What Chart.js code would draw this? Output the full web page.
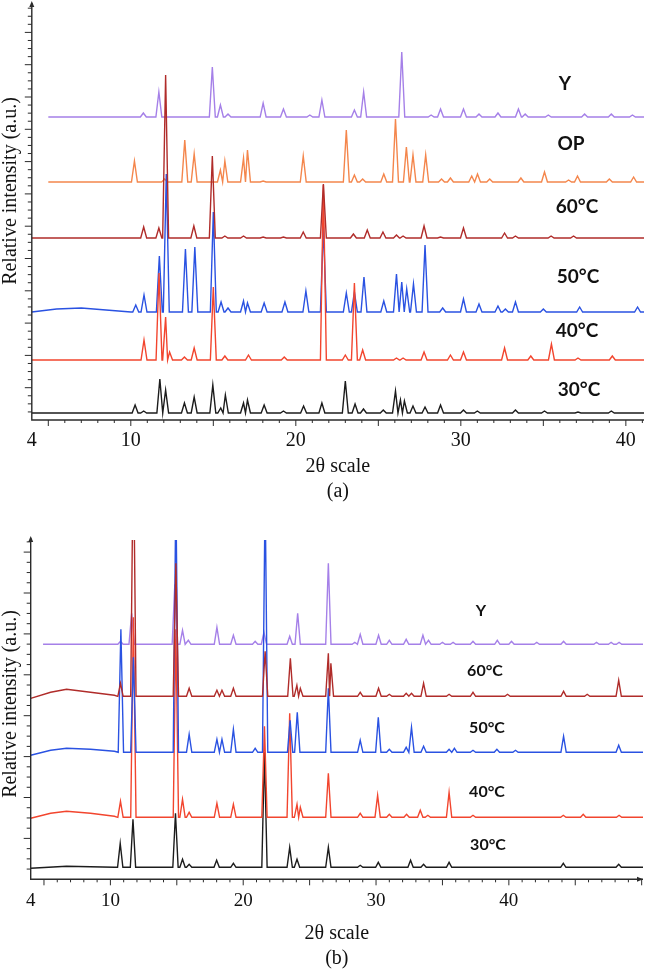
<!DOCTYPE html>
<html lang="en">
<head>
<meta charset="UTF-8">
<title>XRD patterns</title>
<script src="https://cdn.jsdelivr.net/npm/chart.js"></script>
<style>
  body { margin: 0; background: #fff; }
  canvas { position: absolute; left: 0; }
</style>
</head>
<body>
<canvas id="panelA" width="653" height="504" style="top:0"></canvas>
<canvas id="panelB" width="653" height="467" style="top:504px"></canvas>
<script>
// ---------- panel (a): 2θ 4..41 ----------
const a_names = ['Y', 'OP', '60°C', '50°C', '40°C', '30°C'];

const a_Y_base = 303;
const a_Y_pos = [10.76, 11.70, 14.94, 15.43, 15.89, 18.02, 19.25, 20.85, 21.58, 23.55, 24.11, 26.42, 28.2, 28.77, 30.16, 31.10, 32.25, 33.49, 33.9, 35.3, 37.50, 39.12, 40.4];
const a_Y_h   = [4, 25, 50, 12, 3, 14, 8, 2, 17, 7, 25, 65, 2, 8, 8, 3, 4, 8, 3, 2, 3, 3, 2];

const a_OP_base = 238;
const a_OP_pos = [10.22, 12.05, 13.27, 13.84, 15.43, 15.70, 16.83, 17.07, 18.02, 20.45, 23.06, 23.55, 24.05, 25.33, 26.04, 26.70, 27.10, 27.87, 28.83, 29.37, 30.66, 31.01, 31.75, 33.64, 35.07, 36.53, 37.07, 39.0, 40.47];
const a_OP_h   = [21, 3, 42, 28, 12, 21, 24, 32, 1, 26, 52, 7, 3, 8, 63, 35, 27, 27, 3, 4, 6, 8, 3, 4, 10, 2, 6, 3, 5];

const a_60_base = 182;
const a_60_pos = [10.78, 11.70, 12.11, 13.82, 14.94, 15.70, 16.83, 18.02, 19.25, 20.45, 21.67, 23.49, 24.33, 25.28, 26.10, 26.50, 27.77, 28.77, 30.16, 32.65, 33.31, 35.47, 36.83];
const a_60_h   = [11, 10, 163, 12, 82, 2, 2, 1, 1, 6, 54, 4, 8, 6, 3, 2, 12, 1, 10, 5, 2, 2, 2];

const a_50_base = 108;
const a_50_humpX = [4, 5.5, 7, 8.5, 10];
const a_50_humpY = [108, 111, 112, 110, 108];
const a_50_pos = [10.30, 10.80, 11.73, 12.15, 13.31, 13.88, 15.00, 15.47, 15.89, 16.83, 17.07, 18.08, 19.34, 20.61, 21.67, 23.06, 23.55, 24.13, 25.33, 26.10, 26.42, 26.72, 27.13, 27.83, 28.90, 30.16, 31.10, 32.25, 32.70, 33.31, 35.0, 37.2, 40.71];
const a_50_h   = [7, 17, 56, 138, 63, 65, 100, 10, 4, 11, 9, 9, 10, 21, 85, 19, 20, 35, 11, 38, 30, 23, 28, 67, 4, 13, 8, 6, 3, 10, 3, 5, 5];

const a_40_base = 60;
const a_40_pos = [10.80, 11.71, 12.11, 12.35, 13.25, 13.84, 15.00, 15.70, 17.13, 19.30, 21.67, 23.00, 23.55, 24.05, 26.10, 26.50, 27.77, 29.37, 30.16, 32.65, 34.24, 35.49, 37.10, 39.18];
const a_40_h   = [20, 87, 43, 8, 3, 12, 73, 4, 5, 3, 175, 5, 77, 10, 2, 2, 8, 5, 8, 12, 4, 16, 2, 4];

const a_30_base = 7;
const a_30_pos = [10.26, 10.78, 11.76, 12.11, 13.25, 13.84, 14.97, 15.45, 15.73, 16.83, 17.07, 18.08, 19.25, 20.47, 21.58, 23.00, 23.59, 24.10, 25.30, 26.04, 26.34, 26.58, 27.10, 27.83, 28.77, 30.16, 31.00, 33.31, 35.07, 37.10, 39.12];
const a_30_h   = [8, 2, 34, 23, 10, 16, 28, 5, 18, 10, 13, 8, 2, 7, 10, 32, 9, 4, 3, 22, 13, 12, 7, 6, 8, 3, 2, 3, 2, 1, 2];

// ---------- panel (b): 2θ 4..50 ----------
const b_names = ['Y', '60°C', '50°C', '40°C', '30°C'];

const b_Y_base = 235;
const b_Y_pos = [10.76, 11.60, 14.85, 15.43, 15.87, 18.02, 19.26, 20.90, 21.56, 23.50, 24.10, 26.41, 28.40, 28.81, 30.19, 31.00, 32.27, 33.53, 33.95, 35.00, 35.80, 37.30, 39.13, 40.20, 42.10, 44.12, 46.60, 47.70, 48.30];
const b_Y_h   = [3, 31, 60, 14, 4, 17, 9, 3, 12, 8, 31, 81, 2, 10, 9, 4, 5, 9, 4, 2, 2, 3, 4, 3, 2, 3, 2, 2, 2];

const b_60_base = 183;
const b_60_humpX = [4, 5.5, 6.7, 8.5, 10.3];
const b_60_humpY = [181, 187, 190, 187, 184];
const b_60_pos = [10.76, 11.73, 14.93, 15.93, 18.02, 18.40, 19.26, 21.65, 23.55, 24.04, 24.30, 26.41, 26.60, 28.81, 30.19, 31.00, 32.27, 32.67, 33.58, 35.50, 37.30, 39.90, 44.12, 45.90, 48.27];
const b_60_h   = [13, 260, 133, 8, 6, 6, 8, 45, 38, 11, 8, 43, 33, 4, 8, 2, 3, 3, 13, 2, 4, 2, 5, 2, 16];

const b_50_base = 127;
const b_50_humpX = [4, 5.5, 6.7, 8.5, 10.3];
const b_50_humpY = [124, 129, 131, 130, 128];
const b_50_pos = [10.79, 11.73, 14.93, 15.93, 18.02, 18.40, 19.26, 20.90, 21.65, 23.53, 24.07, 26.41, 28.81, 30.17, 31.00, 32.27, 32.67, 33.58, 35.50, 35.90, 37.30, 39.10, 40.50, 44.12, 48.27];
const b_50_h   = [123, 95, 260, 18, 13, 13, 23, 4, 260, 32, 40, 64, 12, 35, 3, 5, 25, 6, 3, 4, 2, 3, 2, 16, 7];

const b_40_base = 62;
const b_40_humpX = [4, 5.5, 6.7, 8.5, 10.3];
const b_40_humpY = [61, 66, 68, 66, 63];
const b_40_pos = [10.76, 11.73, 14.93, 15.43, 15.93, 18.02, 19.26, 21.60, 23.50, 24.05, 24.30, 26.41, 28.81, 30.12, 31.00, 32.30, 33.33, 33.90, 35.50, 37.30, 44.10, 45.60, 48.30];
const b_40_h   = [16, 200, 188, 18, 5, 14, 13, 91, 104, 13, 10, 44, 4, 22, 3, 3, 7, 2, 25, 2, 2, 3, 2];

const b_30_base = 12;
const b_30_humpX = [4, 6.7, 10.3];
const b_30_humpY = [11, 13, 12];
const b_30_pos = [10.74, 11.70, 14.90, 15.43, 15.93, 18.00, 19.26, 21.60, 23.50, 24.05, 26.41, 28.81, 30.17, 32.60, 33.58, 35.50, 44.10, 48.27];
const b_30_h   = [24, 48, 54, 8, 3, 7, 4, 115, 20, 8, 20, 2, 5, 7, 3, 5, 4, 3];

// peaks as narrow triangles on a flat (or read) baseline
function profile(start, end, base, pos, h, humpX, humpY, w) {
    const pts = [];
    if (humpX) humpX.forEach((x, i) => pts.push({x: x, y: humpY[i]}));
    else pts.push({x: start, y: base});
    pos.forEach((p, i) => {
        const l = i > 0 ? Math.min(w, (p - pos[i - 1]) / 2) : w;
        const r = i < pos.length - 1 ? Math.min(w, (pos[i + 1] - p) / 2) : w;
        pts.push({x: p - l, y: base}, {x: p, y: base + h[i]}, {x: p + r, y: base});
    });
    pts.push({x: end, y: base});
    return pts;
}

const colors = {
    Y: '#a580e8', OP: '#f4864c', t60: '#b02c2a', t50: '#2a52e2', t40: '#f2452e', t30: '#1c1c1c'
};

function ds(label, data, color, order) {
    return { label: label, data: data, borderColor: color, borderWidth: 1.4,
             pointRadius: 0, fill: false, tension: 0, order: order };
}

// axes, ticks, y title and curve labels
const axisDecor = {
    id: 'axisDecor',
    afterDraw(chart, args, o) {
        const {ctx, chartArea: a, scales: {x, y}} = chart;
        ctx.save();
        ctx.strokeStyle = '#2b2b2b';
        ctx.fillStyle = '#2b2b2b';
        ctx.lineWidth = 1.4;
        ctx.beginPath();
        ctx.moveTo(a.left, a.top - 2);
        ctx.lineTo(a.left, a.bottom);
        ctx.lineTo(a.right, a.bottom);
        ctx.stroke();
        // small arrow heads
        ctx.beginPath();
        ctx.moveTo(a.left, a.top - 4);
        ctx.lineTo(a.left - 2.5, a.top + 2);
        ctx.lineTo(a.left + 2.5, a.top + 2);
        ctx.fill();
        if (o.arrowRight) {
            ctx.beginPath();
            ctx.moveTo(a.right, a.bottom);
            ctx.lineTo(a.right - 6, a.bottom - 2.5);
            ctx.lineTo(a.right - 6, a.bottom + 2.5);
            ctx.fill();
        }
        ctx.lineWidth = 1;
        ctx.beginPath();
        for (let v = Math.ceil(x.min) + 1; v < x.max; v++) {
            const px = x.getPixelForValue(v);
            ctx.moveTo(px, a.bottom);
            ctx.lineTo(px, a.bottom + (v % 5 === 0 ? 6 : 3));
        }
        for (let k = 1; k * o.yStep < y.max; k++) {
            const py = y.getPixelForValue(k * o.yStep);
            ctx.moveTo(a.left, py);
            ctx.lineTo(a.left - (k % 4 === 0 ? 7 : 4), py);
        }
        ctx.stroke();

        ctx.fillStyle = '#111';
        ctx.font = '20px "Liberation Serif", "Times New Roman", serif';
        ctx.textAlign = 'center';
        ctx.textBaseline = 'middle';
        ctx.save();
        ctx.translate(o.titleX, o.titleY);
        ctx.rotate(-Math.PI / 2);
        ctx.fillText('Relative intensity (a.u.)', 0, 0);
        ctx.restore();

        ctx.font = 'bold ' + o.labelSize + 'px Lato, "Open Sans", sans-serif';
        o.names.forEach((n, i) => ctx.fillText(n, o.labelX[i], o.labelY[i]));
        ctx.restore();
    }
};

function xScale(min, max, size, boxH, pad, caption) {
    return {
        type: 'linear', min: min, max: max,
        grid: { display: false, drawTicks: false },
        border: { display: false },
        ticks: {
            stepSize: 1, autoSkip: false, maxRotation: 0, padding: pad, color: '#111',
            font: { family: '"Liberation Serif", "Times New Roman", serif', size: size },
            callback: v => [4, 10, 20, 30, 40].includes(v) ? String(v) : ''
        },
        title: {
            display: true, text: ['2θ scale', caption], color: '#111', padding: 0,
            font: { family: '"Liberation Serif", "Times New Roman", serif', size: 20, lineHeight: 1.25 }
        },
        afterFit: s => { s.height = boxH; }
    };
}

new Chart(document.getElementById('panelA'), {
    type: 'line',
    data: {
        datasets: [
            ds(a_names[2], profile(4, 41.1, a_60_base, a_60_pos, a_60_h, null, null, 0.18), colors.t60, 0),
            ds(a_names[4], profile(4, 41.1, a_40_base, a_40_pos, a_40_h, null, null, 0.18), colors.t40, 1),
            ds(a_names[3], profile(4, 41.1, a_50_base, a_50_pos, a_50_h, a_50_humpX, a_50_humpY, 0.18), colors.t50, 2),
            ds(a_names[0], profile(5.0, 41.1, a_Y_base, a_Y_pos, a_Y_h, null, null, 0.18), colors.Y, 3),
            ds(a_names[1], profile(5.0, 41.1, a_OP_base, a_OP_pos, a_OP_h, null, null, 0.18), colors.OP, 4),
            ds(a_names[5], profile(4, 41.1, a_30_base, a_30_pos, a_30_h, null, null, 0.18), colors.t30, 5)
        ]
    },
    options: {
        responsive: false, animation: false, devicePixelRatio: 1,
        layout: { padding: { left: 31.8, top: 5, right: 0, bottom: 0 } },
        plugins: {
            legend: { display: false }, tooltip: { enabled: false },
            axisDecor: {
                yStep: 8.075, titleX: 11, titleY: 191, labelSize: 19,
                names: a_names,
                labelX: [565, 571, 577, 578, 577, 579],
                labelY: [84, 144, 207, 277, 331, 390]
            }
        },
        scales: {
            x: xScale(4, 41.1, 20, 84, 9, '(a)'),
            y: { type: 'linear', min: 0, max: 415, display: false }
        }
    },
    plugins: [axisDecor]
});

new Chart(document.getElementById('panelB'), {
    type: 'line',
    data: {
        datasets: [
            ds(b_names[1], profile(4, 50.1, b_60_base, b_60_pos, b_60_h, b_60_humpX, b_60_humpY, 0.2), colors.t60, 0),
            ds(b_names[2], profile(4, 50.1, b_50_base, b_50_pos, b_50_h, b_50_humpX, b_50_humpY, 0.2), colors.t50, 1),
            ds(b_names[3], profile(4, 50.1, b_40_base, b_40_pos, b_40_h, b_40_humpX, b_40_humpY, 0.2), colors.t40, 2),
            ds(b_names[0], profile(4.93, 50.1, b_Y_base, b_Y_pos, b_Y_h, null, null, 0.2), colors.Y, 3),
            ds(b_names[4], profile(4, 50.1, b_30_base, b_30_pos, b_30_h, b_30_humpX, b_30_humpY, 0.2), colors.t30, 4)
        ]
    },
    options: {
        responsive: false, animation: false, devicePixelRatio: 1,
        layout: { padding: { left: 30.7, top: 36, right: 0, bottom: 0 } },
        plugins: {
            legend: { display: false }, tooltip: { enabled: false },
            axisDecor: {
                yStep: 10.225, titleX: 11, titleY: 200, labelSize: 16, arrowRight: true,
                names: b_names,
                labelX: [481, 485, 487, 487, 488],
                labelY: [107, 167, 224, 288, 341]
            }
        },
        scales: {
            x: xScale(4, 50.1, 19, 91.7, 10, '(b)'),
            y: { type: 'linear', min: 0, max: 339.3, display: false }
        }
    },
    plugins: [axisDecor]
});
</script>
</body>
</html>
